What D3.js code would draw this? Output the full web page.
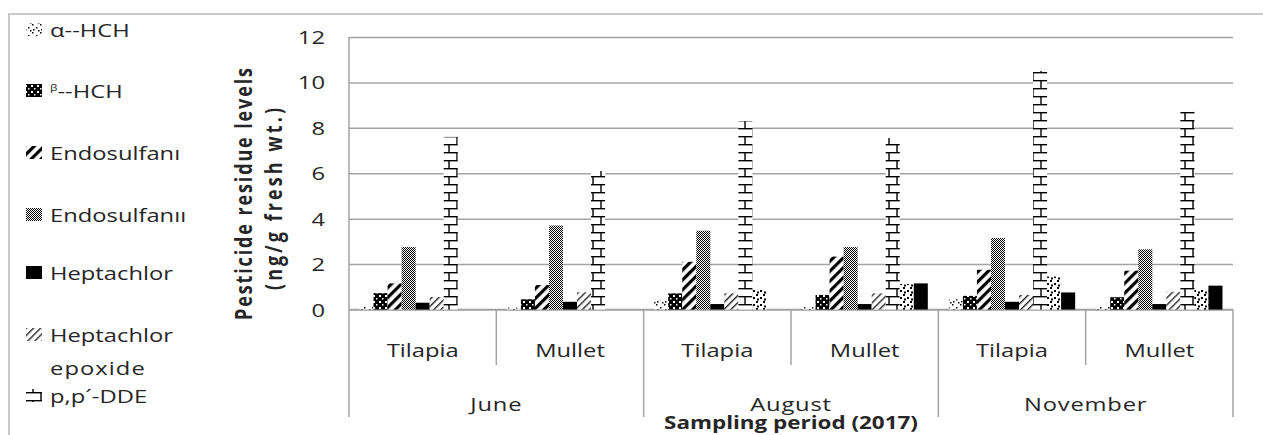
<!DOCTYPE html>
<html>
<head>
<meta charset="utf-8">
<script src="https://cdn.jsdelivr.net/npm/d3@7"></script>
<style>
  body { margin: 0; background: #fff; }
  text { font-family: "Open Sans", "DejaVu Sans", sans-serif; fill: #262626; }
</style>
</head>
<body>
<svg id="chart" width="1263" height="435"></svg>
<script>
// ---- data ----
const months = ["June", "August", "November"];
const species = ["Tilapia", "Mullet"];
const seriesNames = ["α--HCH", "β--HCH", "Endosulfanı", "Endosulfanıı", "Heptachlor",
                     "Heptachlor epoxide", "p,p´-DDE", "Series8", "Series9"];
// values per category: June Tilapia, June Mullet, August Tilapia, August Mullet, November Tilapia, November Mullet
const alphaHCH      = [0.15, 0.08, 0.39, 0.10, 0.45, 0.15];
const betaHCH       = [0.72, 0.45, 0.71, 0.64, 0.60, 0.54];
const endosulfanI   = [1.15, 1.08, 2.10, 2.33, 1.75, 1.71];
const endosulfanII  = [2.75, 3.70, 3.47, 2.75, 3.15, 2.65];
const heptachlor    = [0.30, 0.34, 0.24, 0.24, 0.34, 0.24];
const heptEpoxide   = [0.55, 0.76, 0.71, 0.71, 0.64, 0.78];
const ppDDE         = [7.60, 6.10, 8.30, 7.55, 10.50, 8.70];
const series8       = [0.00, 0.00, 0.86, 1.12, 1.45, 0.89];
const series9       = [0.00, 0.00, 0.00, 1.15, 0.75, 1.05];
const seriesValues = [alphaHCH, betaHCH, endosulfanI, endosulfanII, heptachlor,
                      heptEpoxide, ppDDE, series8, series9];
const yTicks = [0, 2, 4, 6, 8, 10, 12];
const legendCount = 7; // entries shown in the legend box

const categories = [];
months.forEach(m => species.forEach(s => categories.push(m + "|" + s)));

// ---- layout ----
const svg = d3.select("#chart");
const plotL = 349, plotR = 1233, plotT = 37, plotB = 309.5;
const SX = 1.32; // horizontal widening of the label glyphs
const gridColor = "#a3a3a3";

const x0 = d3.scaleBand().domain(categories).range([plotL, plotR]).padding(0);
const x1 = d3.scaleBand().domain(d3.range(seriesNames.length))
  .range([0, x0.bandwidth()]).paddingInner(0).paddingOuter(0.75);
const y = d3.scaleLinear().domain([0, 12]).range([plotB, plotT]);

// ---- fill patterns ----
const defs = svg.append("defs");
function pattern(id, w, h, build, transform) {
  const p = defs.append("pattern").attr("id", id)
    .attr("patternUnits", "userSpaceOnUse").attr("width", w).attr("height", h);
  if (transform) p.attr("patternTransform", transform);
  p.append("rect").attr("width", w).attr("height", h).attr("fill", "#fff");
  build(p);
}
const dots = (p, pts, s) => pts.forEach(([a, b]) =>
  p.append("rect").attr("x", a).attr("y", b).attr("width", s[0]).attr("height", s[1]).attr("fill", "#000"));

pattern("f0", 8, 8, p => dots(p, [[0, 0], [4, 3], [1, 5], [6, 6]], [1.5, 1.5]));
pattern("f1", 6, 6, p => {
  p.select("rect").attr("fill", "#000");
  p.append("rect").attr("x", 1).attr("y", 1).attr("width", 2).attr("height", 2).attr("fill", "#fff");
  p.append("rect").attr("x", 4).attr("y", 4).attr("width", 1.5).attr("height", 1.5).attr("fill", "#fff");
});
pattern("f2", 7, 7, p => p.append("rect").attr("width", 3.2).attr("height", 7).attr("fill", "#000"), "rotate(45)");
pattern("f3", 2, 2, p => dots(p, [[0, 0], [1, 1]], [1, 1]));
pattern("f4", 4, 4, p => p.select("rect").attr("fill", "#000"));
pattern("f5", 5, 5, p => p.append("rect").attr("width", 1.4).attr("height", 5).attr("fill", "#222"), "rotate(45)");
pattern("f6", 16, 16, p => {
  const ln = (a, b, c, d) => p.append("line").attr("x1", a).attr("y1", b).attr("x2", c).attr("y2", d)
    .attr("stroke", "#000").attr("stroke-width", 1.4);
  ln(0, 0.7, 16, 0.7); ln(0, 8.7, 16, 8.7);
  ln(1, 0, 1, 8.7); ln(9, 8.7, 9, 16);
});
pattern("f7", 7, 7, p => dots(p, [[0, 0], [4, 3], [1, 4.5]], [2, 2]));
pattern("f8", 4, 4, p => p.select("rect").attr("fill", "#000"));

// ---- outer frame ----
svg.append("line").attr("x1", 9).attr("x2", 1263).attr("y1", 14).attr("y2", 14)
  .attr("stroke", "#c9c9c9").attr("stroke-width", 2);
svg.append("line").attr("x1", 9).attr("x2", 9).attr("y1", 13).attr("y2", 435)
  .attr("stroke", "#c9c9c9").attr("stroke-width", 2);

// ---- gridlines and value axis ----
const yAxis = svg.append("g").attr("transform", `translate(${plotL},0)`)
  .call(d3.axisLeft(y).tickValues(yTicks).tickSize(-(plotR - plotL)).tickFormat(d3.format("d")));
yAxis.select(".domain").remove();
yAxis.selectAll(".tick line").attr("stroke", gridColor).attr("stroke-width", 1.5);
yAxis.selectAll(".tick text")
  .attr("x", null).attr("dy", null).attr("fill", "#262626")
  .attr("font-size", 18).attr("text-anchor", "end")
  .attr("transform", `translate(-24,6.5) scale(${SX},1)`);

// ---- category axis lines ----
const axisG = svg.append("g").attr("stroke", gridColor).attr("stroke-width", 1.5);
axisG.append("line").attr("x1", plotL).attr("x2", plotL).attr("y1", plotT).attr("y2", 417);
axisG.append("line").attr("x1", plotR).attr("x2", plotR).attr("y1", plotB).attr("y2", 417);
axisG.append("line").attr("x1", plotL).attr("x2", plotR).attr("y1", plotB).attr("y2", plotB);
categories.forEach((c, i) => {
  if (i === 0) return;
  const xx = x0(c);
  axisG.append("line").attr("x1", xx).attr("x2", xx).attr("y1", plotB)
    .attr("y2", i % species.length === 0 ? 417 : 365);
});

// ---- bars ----
const barG = svg.append("g");
seriesValues.forEach((vals, si) => {
  barG.append("g").selectAll("rect").data(vals).join("rect")
    .attr("x", (d, ci) => x0(categories[ci]) + x1(si))
    .attr("width", x1.bandwidth())
    .attr("y", d => y(d))
    .attr("height", d => y(0) - y(d))
    .attr("fill", `url(#f${si})`);
});

// ---- text helper ----
function wideText(parent, x, yy, str, size, anchor, weight) {
  return parent.append("text")
    .attr("transform", `translate(${x},${yy}) scale(${SX},1)`)
    .attr("font-size", size).attr("text-anchor", anchor || "start")
    .attr("font-weight", weight || "normal").text(str);
}

// species labels
categories.forEach(c => {
  wideText(svg, x0(c) + x0.bandwidth() / 2, 356.5, c.split("|")[1], 18, "middle");
});
// month labels
months.forEach((m, i) => {
  const a = x0(categories[i * species.length]);
  const b = x0(categories[i * species.length + species.length - 1]) + x0.bandwidth();
  wideText(svg, (a + b) / 2, 410.5, m, 18, "middle").attr("letter-spacing", 0.6);
});
// category axis title
wideText(svg, (plotL + plotR) / 2, 429, "Sampling period (2017)", 17, "middle", "bold");

// value axis title (two lines, rotated)
const yTitle = [["Pesticide residue levels", 252, 194, 252], ["(ng/g fresh wt.)", 282, 199, 182]];
yTitle.forEach(([str, bx, cy, len]) => {
  svg.append("text")
    .attr("transform", `translate(${bx},${cy}) rotate(-90) scale(1,1.3)`)
    .attr("font-size", 18).attr("font-weight", "bold").attr("text-anchor", "middle")
    .attr("textLength", len).attr("lengthAdjust", "spacing")
    .text(str);
});

// ---- legend ----
const legendBase = [37, 98, 160, 222, 280, 342, 403];
const legG = svg.append("g");
d3.range(legendCount).forEach(i => {
  const b = legendBase[i];
  legG.append("rect").attr("x", 26).attr("y", b - 14).attr("width", 16).attr("height", 13)
    .attr("fill", `url(#f${i})`);
  const name = seriesNames[i];
  if (i === 1) {
    const t = wideText(legG, 50, b, "", 18);
    t.append("tspan").attr("font-size", 9).attr("dy", -7).text("β");
    t.append("tspan").attr("dy", 7).text("--HCH");
  } else if (i === 5) {
    const parts = name.split(" ");
    wideText(legG, 50, b, parts[0], 18);
    wideText(legG, 50, b + 33, parts[1], 18).attr("letter-spacing", 0.8);
  } else {
    wideText(legG, 50, b, name, 18);
  }
});
</script>
</body>
</html>
